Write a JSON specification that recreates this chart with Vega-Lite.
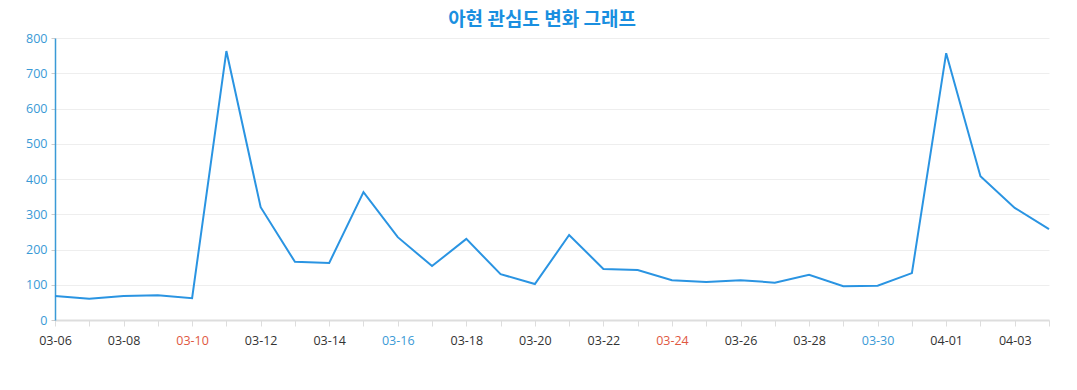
{
  "$schema": "https://vega.github.io/schema/vega-lite/v6.json",
  "autosize": "none",
  "width": 994,
  "height": 282,
  "padding": {"left": 55, "top": 38, "right": 28, "bottom": 70},
  "background": "white",
  "title": {
    "text": "아현 관심도 변화 그래프",
    "font": "Noto Sans CJK KR",
    "fontSize": 19,
    "fontWeight": "bold",
    "color": "#1a8fe0",
    "anchor": "middle",
    "offset": 2,
    "dx": -10
  },
  "data": {
    "values": [
      {"date": "03-06", "value": 68},
      {"date": "03-07", "value": 60},
      {"date": "03-08", "value": 68},
      {"date": "03-09", "value": 70},
      {"date": "03-10", "value": 62},
      {"date": "03-11", "value": 763},
      {"date": "03-12", "value": 320},
      {"date": "03-13", "value": 165},
      {"date": "03-14", "value": 162},
      {"date": "03-15", "value": 363},
      {"date": "03-16", "value": 235},
      {"date": "03-17", "value": 153},
      {"date": "03-18", "value": 230},
      {"date": "03-19", "value": 130},
      {"date": "03-20", "value": 102},
      {"date": "03-21", "value": 241},
      {"date": "03-22", "value": 145},
      {"date": "03-23", "value": 142},
      {"date": "03-24", "value": 113},
      {"date": "03-25", "value": 108},
      {"date": "03-26", "value": 113},
      {"date": "03-27", "value": 106},
      {"date": "03-28", "value": 128},
      {"date": "03-29", "value": 96},
      {"date": "03-30", "value": 97},
      {"date": "03-31", "value": 133},
      {"date": "04-01", "value": 757},
      {"date": "04-02", "value": 408},
      {"date": "04-03", "value": 318},
      {"date": "04-04", "value": 258}
    ]
  },
  "mark": {"type": "line", "color": "#2a94e2", "strokeWidth": 2},
  "encoding": {
    "x": {
      "field": "date",
      "type": "ordinal",
      "sort": null,
      "scale": {"type": "point", "padding": 0},
      "axis": {
        "title": null,
        "labelAngle": 0,
        "labelFont": "Open Sans",
        "labelFontSize": 12.5,
        "labelPadding": 8,
        "labelExpr": "indexof(['03-06','03-08','03-10','03-12','03-14','03-16','03-18','03-20','03-22','03-24','03-26','03-28','03-30','04-01','04-03'], datum.value) >= 0 ? datum.value : ''",
        "labelColor": {"expr": "datum.value == '03-10' || datum.value == '03-24' ? '#e0583f' : (datum.value == '03-16' || datum.value == '03-30' ? '#3a9ad6' : '#333333')"},
        "domainColor": "#dddddd",
        "domainWidth": 2,
        "tickColor": "#dddddd",
        "tickSize": 6,
        "grid": false,
        "labelOverlap": false
      }
    },
    "y": {
      "field": "value",
      "type": "quantitative",
      "scale": {"domain": [0, 800], "nice": false},
      "axis": {
        "title": null,
        "values": [0, 100, 200, 300, 400, 500, 600, 700, 800],
        "labelFont": "Open Sans",
        "labelFontSize": 12.5,
        "labelColor": "#3a9ad6",
        "labelPadding": 4,
        "domainColor": "#3a9ad6",
        "domainWidth": 1.5,
        "tickColor": "#cccccc",
        "tickSize": 4,
        "gridColor": "#eeeeee",
        "gridWidth": 1
      }
    }
  },
  "config": {"view": {"stroke": null}}
}
